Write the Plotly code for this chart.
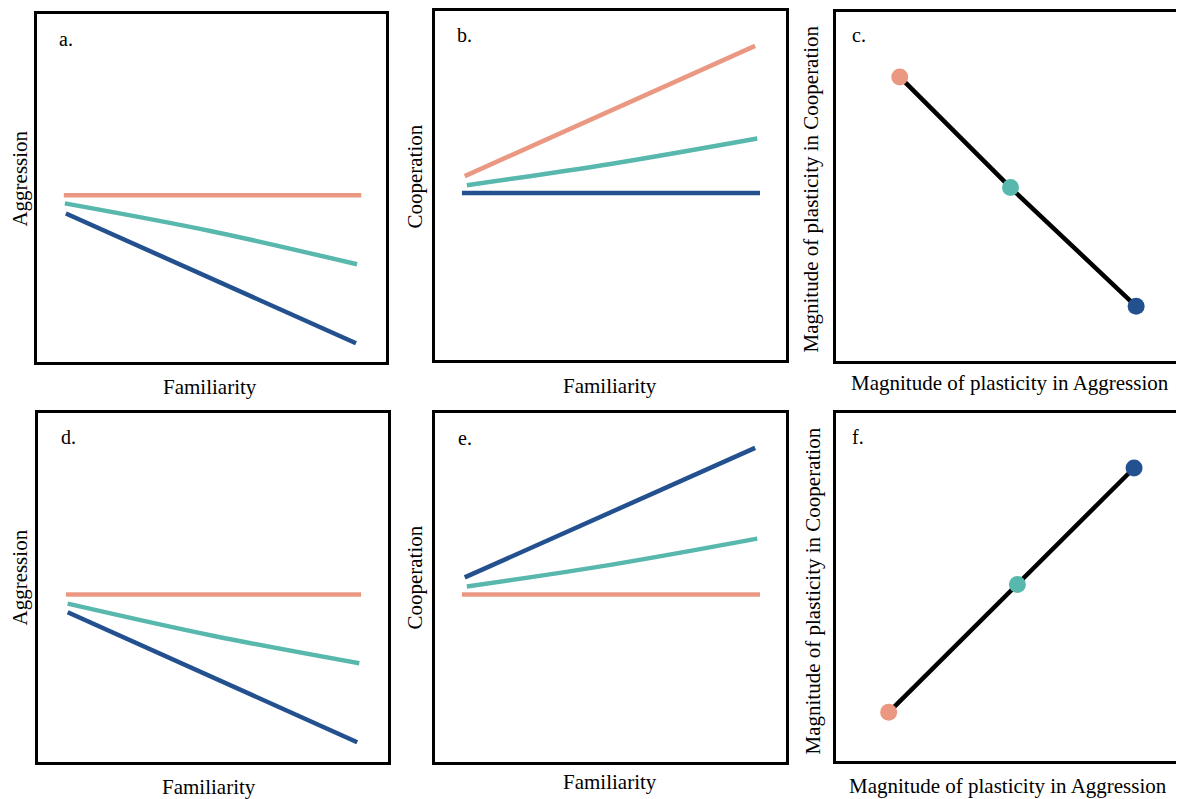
import plotly.graph_objects as go

# page body has an 8px margin: the figure is sized so that it fills the window
OFF = 8
W, H = 1184 - OFF, 799 - OFF

SALMON = "#EB9883"
TEAL = "#58B8AD"
NAVY = "#23508F"

# ---- data (arbitrary 0-10 units) ----
# panel a: Aggression vs Familiarity
a_x_orange = [0.77, 9.29]; a_y_orange = [4.79, 4.79]
a_x_teal = [0.80, 5.0, 9.17]; a_y_teal = [4.56, 3.76, 2.81]
a_x_navy = [0.83, 9.14]; a_y_navy = [4.27, 0.54]
# panel b: Cooperation vs Familiarity
b_x_orange = [0.85, 9.12]; b_y_orange = [5.27, 9.00]
b_x_teal = [0.91, 5.0, 9.18]; b_y_teal = [5.01, 5.62, 6.35]
b_x_navy = [0.77, 9.26]; b_y_navy = [4.79, 4.79]
# panel c: plasticity coop vs plasticity aggression
c_x = [1.85, 5.06, 8.70]; c_y = [8.14, 4.97, 1.57]
# panel d
d_x_orange = [0.80, 9.23]; d_y_orange = [4.80, 4.80]
d_x_teal = [0.85, 5.0, 9.18]; d_y_teal = [4.54, 3.62, 2.83]
d_x_navy = [0.85, 9.12]; d_y_navy = [4.29, 0.57]
# panel e
e_x_orange = [0.77, 9.26]; e_y_orange = [4.80, 4.80]
e_x_teal = [0.91, 5.0, 9.18]; e_y_teal = [5.03, 5.65, 6.40]
e_x_navy = [0.85, 9.12]; e_y_navy = [5.29, 9.00]
# panel f
f_x = [1.53, 5.26, 8.64]; f_y = [1.40, 5.07, 8.42]

point_colors = {"c": [SALMON, TEAL, NAVY], "f": [SALMON, TEAL, NAVY]}

# panel boxes in window pixels: (left, right, top, bottom)
boxes = {
    "a": (37, 387, 12, 361),
    "b": (436, 788, 9, 359),
    "c": (838, 1186, 10, 360),
    "d": (38, 389, 412, 762),
    "e": (436, 788, 412, 762),
    "f": (838, 1186, 412, 761),
}
order = ["a", "b", "c", "d", "e", "f"]

def fx(px):
    return (px - OFF) / W

def fy(py):
    return 1 - (py - OFF) / H

fig = go.Figure()
layout = dict(width=W, height=H, margin=dict(l=0, r=0, t=0, b=0),
              paper_bgcolor="white", plot_bgcolor="white", showlegend=False)

for i, k in enumerate(order):
    n = "" if i == 0 else str(i + 1)
    l, r, t, b = boxes[k]
    ax = dict(domain=[max(fx(l), 0), min(fx(r), 1.0)], range=[0, 10], showgrid=False, zeroline=False,
              showticklabels=False, ticks="", showline=True, mirror=True,
              linecolor="black", linewidth=2.5, fixedrange=True,
              anchor="y" + n)
    ay = dict(domain=[max(fy(b), 0), min(fy(t), 1.0)], range=[0, 10], showgrid=False, zeroline=False,
              showticklabels=False, ticks="", showline=True, mirror=True,
              linecolor="black", linewidth=2.5, fixedrange=True,
              anchor="x" + n)
    layout["xaxis" + n] = ax
    layout["yaxis" + n] = ay

def add_line(x, y, color, n):
    fig.add_trace(go.Scatter(x=x, y=y, mode="lines", line=dict(color=color, width=4.5, shape="spline"),
                             xaxis="x" + n, yaxis="y" + n, hoverinfo="skip"))

add_line(a_x_orange, a_y_orange, SALMON, "")
add_line(a_x_teal, a_y_teal, TEAL, "")
add_line(a_x_navy, a_y_navy, NAVY, "")
add_line(b_x_navy, b_y_navy, NAVY, "2")
add_line(b_x_teal, b_y_teal, TEAL, "2")
add_line(b_x_orange, b_y_orange, SALMON, "2")
add_line(d_x_orange, d_y_orange, SALMON, "4")
add_line(d_x_teal, d_y_teal, TEAL, "4")
add_line(d_x_navy, d_y_navy, NAVY, "4")
add_line(e_x_orange, e_y_orange, SALMON, "5")
add_line(e_x_teal, e_y_teal, TEAL, "5")
add_line(e_x_navy, e_y_navy, NAVY, "5")

for xs, ys, n, k in [(c_x, c_y, "3", "c"), (f_x, f_y, "6", "f")]:
    fig.add_trace(go.Scatter(x=xs, y=ys, mode="lines", line=dict(color="black", width=4.5),
                             xaxis="x" + n, yaxis="y" + n, hoverinfo="skip"))
    fig.add_trace(go.Scatter(x=xs, y=ys, mode="markers",
                             marker=dict(color=point_colors[k], size=17, line=dict(width=0)),
                             xaxis="x" + n, yaxis="y" + n, hoverinfo="skip"))

FONT = "Liberation Serif, Times New Roman, serif"
ann = []
def txt(s, px, py, size=21, angle=0, xanchor="center"):
    ann.append(dict(text=s, x=fx(px), y=fy(py), xref="paper", yref="paper",
                    showarrow=False, textangle=angle, xanchor=xanchor, yanchor="middle",
                    font=dict(family=FONT, size=size, color="black")))

# panel letters
txt("a.", 57, 37, 20, xanchor="left")
txt("b.", 456, 33, 20, xanchor="left")
txt("c.", 852, 33, 20, xanchor="left")
txt("d.", 59, 436, 20, xanchor="left")
txt("e.", 457, 437, 20, xanchor="left")
txt("f.", 852, 436, 20, xanchor="left")
# axis titles
txt("Familiarity", 211, 386)
txt("Familiarity", 612, 385)
txt("Magnitude of plasticity in Aggression", 1013, 382)
txt("Familiarity", 210, 787)
txt("Familiarity", 612, 782)
txt("Magnitude of plasticity in Aggression", 1011, 786)
txt("Aggression", 20, 177, angle=-90)
txt("Cooperation", 416, 175, angle=-90)
txt("Magnitude of plasticity in Cooperation", 813, 187, angle=-90)
txt("Aggression", 20, 577, angle=-90)
txt("Cooperation", 416, 577, angle=-90)
txt("Magnitude of plasticity in Cooperation", 815, 590, angle=-90)

layout["annotations"] = ann
fig.update_layout(**layout)
fig.write_html("out.html")
